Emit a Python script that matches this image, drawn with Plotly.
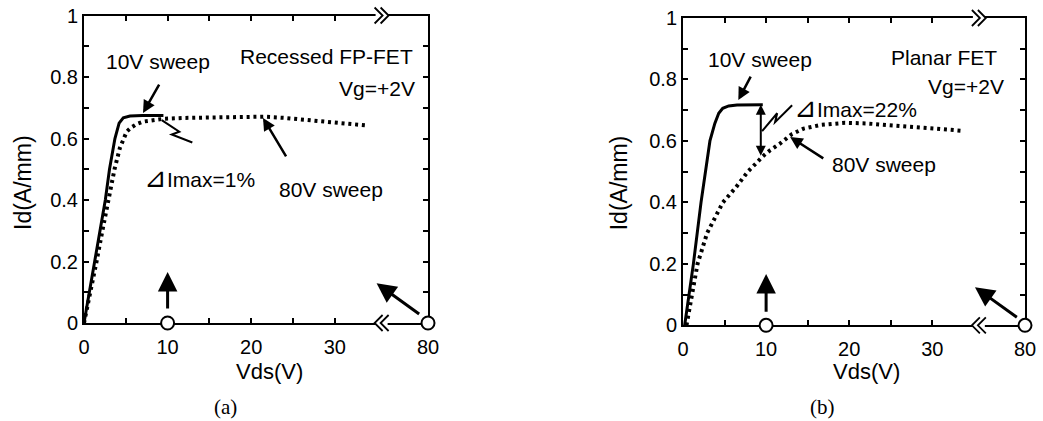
import plotly.graph_objects as go

# ---------------- data ----------------
# (a) Recessed FP-FET
A_10V_VDS = [0, 1.25, 2.55, 3.05, 3.7, 4.2, 4.7, 5.5, 7.0, 9.5]
A_10V_ID = [0, 0.20, 0.40, 0.50, 0.60, 0.65, 0.667, 0.673, 0.675, 0.675]
A_80V_VDS = [0, 0.8, 1.5, 2.2, 2.9, 3.65, 4.3, 4.75, 5.1, 5.6, 6.3, 7.1, 8.3, 9.5,
             12, 16, 19, 21.5, 24, 26, 28, 30, 32, 34]
A_80V_ID = [0, 0.10, 0.20, 0.30, 0.40, 0.50, 0.57, 0.60, 0.622, 0.635, 0.647, 0.655, 0.660, 0.664,
            0.667, 0.669, 0.670, 0.671, 0.667, 0.662, 0.658, 0.654, 0.649, 0.642]
# (b) Planar FET
B_10V_VDS = [0.2, 0.75, 1.25, 2.17, 2.7, 3.24, 3.83, 4.3, 4.78, 5.5, 6.5, 8.0, 9.6]
B_10V_ID = [0, 0.10, 0.20, 0.40, 0.50, 0.60, 0.657, 0.690, 0.706, 0.714, 0.717, 0.718, 0.718]
B_80V_VDS = [0.42, 1.04, 1.75, 2.9, 4.8, 6.4, 7.8, 8.9, 9.6, 10.5, 11.7, 13.1, 14.5, 16.6,
             19.5, 22, 25, 27.9, 30.5, 33.5]
B_80V_ID = [0, 0.10, 0.20, 0.30, 0.40, 0.45, 0.50, 0.53, 0.55, 0.57, 0.592, 0.622, 0.640, 0.652,
            0.659, 0.657, 0.652, 0.646, 0.640, 0.633]

# broken axis: the "80" label sits at the right end of the x range
X_END = 41.15
X_BREAK = 35.6
X_TICK_VALS = [0, 5, 10, 15, 20, 25, 30, X_END]
X_TICK_TEXT = ["0", "", "10", "", "20", "", "30", "80"]
Y_TICK_VALS = [0, 0.1, 0.2, 0.3, 0.4, 0.5, 0.6, 0.7, 0.8, 0.9, 1.0]
Y_TICK_TEXT = ["0", "", "0.2", "", "0.4", "", "0.6", "", "0.8", "", "1"]
MARKED_VDS = [10, X_END]
MARKED_ID = [0, 0]

# ---------------- styling ----------------
FONT = "Liberation Sans, Arial, Helvetica, sans-serif"
SERIF = "Liberation Serif, Times New Roman, serif"
W, H = 1043, 421
PXV = 8.34        # px per volt (for decoration offsets)
PYD = 307.5       # px per y-domain unit
TRI = "<span style='font-size:27px'>⊿</span>"

fig = go.Figure()

def add_curves(xa, ya, v10, i10, v80, i80):
    fig.add_trace(go.Scatter(x=v80, y=i80, mode="lines", xaxis=xa, yaxis=ya,
                             line=dict(color="black", width=4, dash="3px,3.8px")))
    fig.add_trace(go.Scatter(x=v10, y=i10, mode="lines", xaxis=xa, yaxis=ya,
                             line=dict(color="black", width=3)))
    fig.add_trace(go.Scatter(x=MARKED_VDS, y=MARKED_ID, mode="markers", xaxis=xa, yaxis=ya,
                             cliponaxis=False,
                             marker=dict(symbol="circle", size=13, color="white",
                                         line=dict(color="black", width=2))))

add_curves("x", "y", A_10V_VDS, A_10V_ID, A_80V_VDS, A_80V_ID)
add_curves("x2", "y2", B_10V_VDS, B_10V_ID, B_80V_VDS, B_80V_ID)

axis_common = dict(showline=True, linecolor="black", linewidth=2, mirror="ticks",
                   ticks="inside", ticklen=5, tickwidth=1.5, tickcolor="black",
                   showgrid=False, zeroline=False, layer="below traces", automargin=False,
                   tickfont=dict(family=FONT, size=20, color="black"))

xdom_a = [84 / W, 428 / W]
ydom_a = [(H - 323) / H, (H - 15.5) / H]
xdom_b = [683 / W, 1025 / W]
ydom_b = [(H - 325.3) / H, (H - 18) / H]

fig.update_layout(
    width=W, height=H, autosize=False,
    margin=dict(l=0, r=0, t=0, b=0, pad=0),
    paper_bgcolor="white", plot_bgcolor="white",
    showlegend=False,
    xaxis=dict(domain=xdom_a, range=[0, X_END], anchor="y", tickmode="array",
               tickvals=X_TICK_VALS, ticktext=X_TICK_TEXT, ticklabelstandoff=5, **axis_common),
    yaxis=dict(domain=ydom_a, range=[0, 1], anchor="x", tickmode="array",
               tickvals=Y_TICK_VALS, ticktext=Y_TICK_TEXT, **axis_common),
    xaxis2=dict(domain=xdom_b, range=[0, X_END], anchor="y2", tickmode="array",
                tickvals=X_TICK_VALS, ticktext=X_TICK_TEXT, ticklabelstandoff=5, **axis_common),
    yaxis2=dict(domain=ydom_b, range=[0, 1], anchor="x2", tickmode="array",
                tickvals=Y_TICK_VALS, ticktext=Y_TICK_TEXT, **axis_common),
)

annotations = []
shapes = []

def text(xa, ya, x, y, s, xanchor="center", size=21):
    annotations.append(dict(xref=xa, yref=ya, x=x, y=y, text=s, showarrow=False,
                            xanchor=xanchor, yanchor="middle",
                            font=dict(family=FONT, size=size, color="black")))

def arrow(xa, ya, tail, head, width=2.5, size=1.0, side="end"):
    annotations.append(dict(xref=xa, yref=ya, axref=xa, ayref=ya,
                            x=head[0], y=head[1], ax=tail[0], ay=tail[1], text="",
                            showarrow=True, arrowhead=2, arrowsize=size, arrowwidth=width,
                            arrowcolor="black", arrowside=side, standoff=0, startstandoff=0))

def polyline(xa, ya, pts, width=2):
    d = "M " + " L ".join(f"{p[0]},{p[1]}" for p in pts)
    shapes.append(dict(type="path", xref=xa, yref=ya, path=d, layer="above",
                       line=dict(color="black", width=width)))

def axis_break(xa, yd, ydom, sign):
    # white gap in the axis line, then two chevrons
    shapes.append(dict(type="rect", xref=xa, yref=yd, layer="above",
                       x0=X_BREAK - 6 / PXV, x1=X_BREAK + 6 / PXV,
                       y0=ydom - 2.5 / PYD, y1=ydom + 2.5 / PYD,
                       fillcolor="white", line=dict(width=0)))
    chevs = [[(-7, -8), (1, 0), (-7, 8)], [(-1, -8), (7, 0), (-1, 8)]]
    for ch in chevs:
        pts = [(X_BREAK + sign * dx / PXV, ydom - dy / PYD) for dx, dy in ch]
        d = "M " + " L ".join(f"{p[0]},{p[1]}" for p in pts)
        shapes.append(dict(type="path", xref=xa, yref=yd, path=d, layer="above",
                           line=dict(color="black", width=1.8)))

# ----- panel (a) -----
text("x", "y", 8.85, 0.852, "10V sweep")
text("x", "y", 39.6, 0.866, "Recessed FP-FET", xanchor="right")
text("x", "y", 39.8, 0.763, "Vg=+2V", xanchor="right")
text("x", "y", 6.9, 0.473, TRI + "Imax=1%", xanchor="left")
text("x", "y", 23.05, 0.435, "80V sweep", xanchor="left")
arrow("x", "y", (9.09, 0.780), (7.06, 0.683))
arrow("x", "y", (24.28, 0.537), (21.41, 0.667))
arrow("x", "y", (10, 0.042), (10, 0.166), width=3, size=1.3)
arrow("x", "y", (40.27, 0.026), (35.0, 0.129), width=3, size=1.3)
polyline("x", "y", [(9.3, 0.660), (11.4, 0.622), (10.5, 0.613), (12.96, 0.587)])
axis_break("x", "y domain", 1, 1)
axis_break("x", "y domain", 0, -1)

# ----- panel (b) -----
text("x2", "y2", 9.26, 0.866, "10V sweep")
text("x2", "y2", 38.07, 0.871, "Planar FET", xanchor="right")
text("x2", "y2", 38.9, 0.778, "Vg=+2V", xanchor="right")
text("x2", "y2", 13.1, 0.708, TRI + "Imax=22%", xanchor="left")
text("x2", "y2", 17.69, 0.524, "80V sweep", xanchor="left")
arrow("x2", "y2", (8.24, 0.814), (6.66, 0.733))
arrow("x2", "y2", (17.06, 0.540), (12.89, 0.613))
arrow("x2", "y2", (9.36, 0.547), (9.36, 0.718), width=2, size=1.0, side="end+start")
arrow("x2", "y2", (10, 0.039), (10, 0.167), width=3, size=1.3)
arrow("x2", "y2", (40.35, 0.023), (35.13, 0.124), width=3, size=1.3)
polyline("x2", "y2", [(9.52, 0.632), (11.33, 0.690), (11.08, 0.661), (13.13, 0.716)])
axis_break("x2", "y2 domain", 1, 1)
axis_break("x2", "y2 domain", 0, -1)

# ----- axis titles & captions (paper coords) -----
def ptext(px, py, s, size, family=FONT, angle=0):
    annotations.append(dict(xref="paper", yref="paper", x=px / W, y=1 - py / H, text=s,
                            showarrow=False, xanchor="center", yanchor="middle",
                            textangle=angle, font=dict(family=family, size=size, color="black")))

ptext(269, 371, "Vds(V)", 22)
ptext(22.5, 182.5, "Id(A/mm)", 23, angle=-90)
ptext(225, 406.7, "(a)", 21, family=SERIF)
ptext(866, 371, "Vds(V)", 22)
ptext(619, 183.3, "Id(A/mm)", 23, angle=-90)
ptext(822.8, 406.7, "(b)", 21, family=SERIF)

fig.update_layout(annotations=annotations, shapes=shapes)
fig.write_html("out.html", config={"displayModeBar": False},
               post_script="document.body.style.margin='0px';document.body.style.overflow='hidden';")
